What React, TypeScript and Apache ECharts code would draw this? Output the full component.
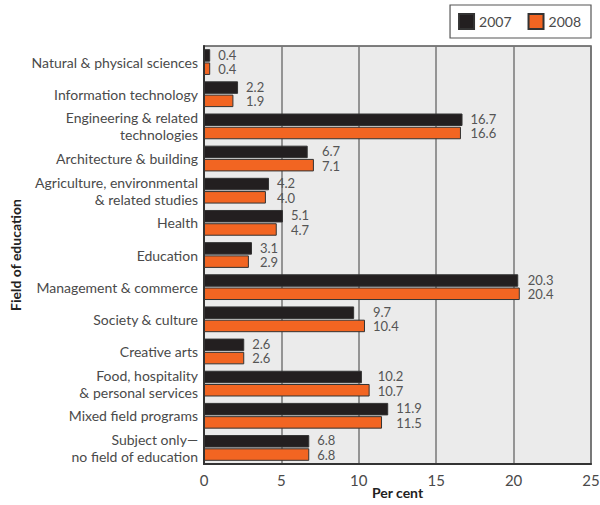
import React, { useEffect, useRef } from "react";
import * as echarts from "echarts";

const categories = [
  "Natural & physical sciences",
  "Information technology",
  "Engineering & related\ntechnologies",
  "Architecture & building",
  "Agriculture, environmental\n& related studies",
  "Health",
  "Education",
  "Management & commerce",
  "Society & culture",
  "Creative arts",
  "Food, hospitality\n& personal services",
  "Mixed field programs",
  "Subject only—\nno field of education",
];
const values2007 = [0.4, 2.2, 16.7, 6.7, 4.2, 5.1, 3.1, 20.3, 9.7, 2.6, 10.2, 11.9, 6.8];
const values2008 = [0.4, 1.9, 16.6, 7.1, 4.0, 4.7, 2.9, 20.4, 10.4, 2.6, 10.7, 11.5, 6.8];
const xTicks = [0, 5, 10, 15, 20, 25];

const FONT = "Lato, 'Open Sans', sans-serif";
const TEXT = "#4a4a4a";

export default function App() {
  const ref = useRef<HTMLDivElement>(null);
  useEffect(() => {
    if (!ref.current) return;
    const chart = echarts.init(ref.current, null, { renderer: "svg" });
    const labelData = categories.map((_, i) => [
      Math.max(values2007[i], values2008[i]),
      i,
    ]);
    chart.setOption({
      animation: false,
      textStyle: { fontFamily: FONT },
      legend: {
        right: 9,
        top: 5,
        padding: [8, 10, 8, 8],
        borderColor: "#555",
        borderWidth: 1.2,
        backgroundColor: "#fff",
        itemWidth: 15,
        itemHeight: 15,
        itemGap: 16,
        icon: "rect",
        textStyle: { fontFamily: FONT, fontSize: 14, color: TEXT },
        data: ["2007", "2008"],
      },
      grid: {
        left: 204,
        right: 9,
        top: 46,
        bottom: 41,
        outerBoundsMode: "none",
        containLabel: false,
        show: true,
        backgroundColor: "#ebebeb",
        borderColor: "#555",
        borderWidth: 1.5,
      },
      xAxis: {
        type: "value",
        min: xTicks[0],
        max: xTicks[xTicks.length - 1],
        interval: 5,
        name: "Per cent",
        nameLocation: "middle",
        nameGap: 21,
        nameMoveOverlap: false,
        nameTextStyle: {
          fontFamily: FONT,
          fontSize: 14,
          fontWeight: "bold",
          color: "#222",
          lineHeight: 15,
        },
        axisLine: { show: true, lineStyle: { color: "#333", width: 2 } },
        axisTick: { show: false },
        axisLabel: { fontFamily: FONT, fontSize: 15, color: TEXT, margin: 8 },
        splitLine: { show: true, lineStyle: { color: "#777", width: 1.5 } },
      },
      yAxis: {
        type: "category",
        inverse: true,
        data: categories,
        name: "Field of education",
        nameLocation: "middle",
        nameGap: 182,
        nameRotate: 90,
        nameMoveOverlap: false,
        nameTextStyle: { fontFamily: FONT, fontSize: 14, fontWeight: "bold", color: "#222" },
        axisLine: { show: true, lineStyle: { color: "#333", width: 2 } },
        axisTick: { show: false },
        axisLabel: {
          fontFamily: FONT,
          fontSize: 14,
          color: TEXT,
          margin: 6,
          lineHeight: 17,
          align: "right",
        },
        splitLine: { show: false },
      },
      series: [
        {
          name: "2007",
          type: "bar",
          data: values2007,
          barWidth: 12.5,
          barGap: "6%",
          itemStyle: { color: "#231f20", borderColor: "#333", borderWidth: 1 },
        },
        {
          name: "2008",
          type: "bar",
          data: values2008,
          barWidth: 12.5,
          barGap: "6%",
          itemStyle: { color: "#f26522", borderColor: "#333", borderWidth: 1 },
        },
        {
          type: "custom",
          name: "labels",
          silent: true,
          clip: false,
          encode: { x: 0, y: 1 },
          data: labelData,
          renderItem: (params: any, api: any) => {
            const i = params.dataIndex;
            const p = api.coord([api.value(0), api.value(1)]);
            const style = {
              fill: "#555",
              fontFamily: FONT,
              fontSize: 13,
              align: "left",
              verticalAlign: "middle",
            };
            return {
              type: "group",
              children: [
                {
                  type: "text",
                  x: p[0] + 8,
                  y: p[1] - 7.5,
                  style: { ...style, text: values2007[i].toFixed(1) },
                },
                {
                  type: "text",
                  x: p[0] + 8,
                  y: p[1] + 7,
                  style: { ...style, text: values2008[i].toFixed(1) },
                },
              ],
            };
          },
        },
      ],
    });
    return () => chart.dispose();
  }, []);
  return <div ref={ref} style={{ width: 600, height: 505, position: "absolute", left: 0, top: 0 }} />;
}
